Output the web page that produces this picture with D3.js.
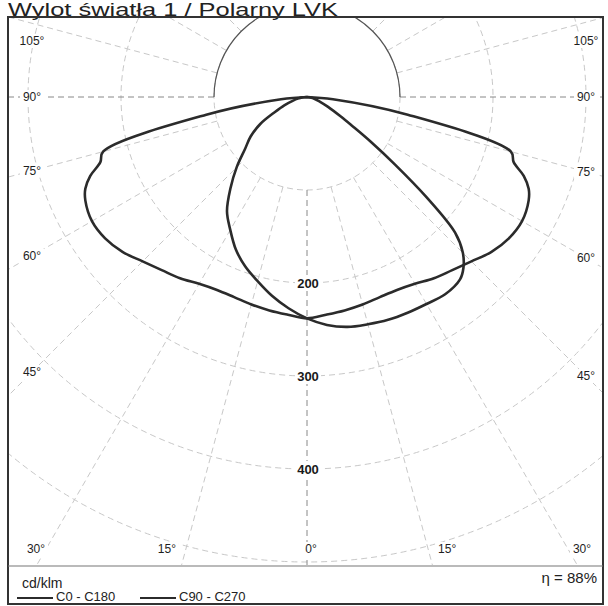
<!DOCTYPE html>
<html>
<head>
<meta charset="utf-8">
<script src="https://cdn.jsdelivr.net/npm/d3@7/dist/d3.min.js"></script>
<style>
  body { margin: 0; background: #fff; }
  text { font-family: "Liberation Sans", Arial, sans-serif; }
</style>
</head>
<body>
<div id="chart"></div>
<script>
const anglesC0 = [0, 5, 10, 15, 20, 25, 30, 35, 40, 45, 50, 55, 60, 65, 67.5, 70, 72.5, 75, 80, 85, 90];
const valuesC0 = [238, 235, 233, 231, 229, 229, 232, 238, 243, 250, 259, 265, 267, 263, 258, 248, 233, 227, 110, 28, 0];
const anglesC180 = [0, 5, 10, 15, 20, 25, 30, 35, 40, 45, 50, 55, 60, 65, 67.5, 70, 72.5, 75, 80, 85, 90];
const valuesC180 = [238, 235, 233, 231, 229, 229, 232, 238, 243, 250, 259, 265, 267, 263, 258, 248, 233, 227, 110, 28, 0];

const anglesC90 = [0, 5, 10, 15, 20, 25, 30, 35, 40, 42.5, 45, 47.5, 50, 52.5, 55, 57.5, 60, 65, 70, 80, 90];
const valuesC90 = [238, 246, 251, 253, 255, 256, 257, 259, 256, 249, 237, 216, 168, 119, 83, 57, 42, 25, 15, 6, 0];
const anglesC270 = [0, 5, 10, 15, 20, 25, 30, 35, 40, 45, 50, 55, 60, 65, 70, 75, 80, 85, 90];
const valuesC270 = [238, 228, 217, 205, 194, 181, 165, 150, 128, 107, 87, 74, 58, 38, 26, 16, 10, 5, 0];

const angleTicks = [0, 15, 30, 45, 60, 75, 90, 105];
const circleTicks = [100, 200, 300, 400, 500];
const valueLabels = [200, 300, 400];
const legendItems = ["C0 - C180", "C90 - C270"];

const width = 608, height = 606;
const cx = 307, cy = 97;
const frame = { left: 8, top: 17, right: 603, plotBottom: 566, bottom: 604 };

const svg = d3.select("#chart").append("svg")
  .attr("width", width)
  .attr("height", height);

// title, stretched a bit so it spans as wide as in the scan
svg.append("text")
  .attr("x", 8)
  .attr("y", 16)
  .attr("fill", "#222")
  .attr("textLength", 330)
  .attr("lengthAdjust", "spacingAndGlyphs")
  .style("font-size", "17.5px")
  .text("Wylot światła 1 / Polarny LVK");

const r = d3.scaleLinear().domain([0, 500]).range([0, 465]);
const rad = d => d * Math.PI / 180;

svg.append("clipPath").attr("id", "plotclip")
  .append("rect")
  .attr("x", frame.left + 1).attr("y", frame.top + 1)
  .attr("width", frame.right - frame.left - 2)
  .attr("height", frame.plotBottom - frame.top - 2);

const plot = svg.append("g").attr("clip-path", "url(#plotclip)");
const grid = plot.append("g").attr("transform", `translate(${cx},${cy})`);

// grid circles
grid.selectAll("circle")
  .data(circleTicks)
  .join("circle")
  .attr("r", d => r(d))
  .attr("fill", "none")
  .attr("stroke", "#c8c8c8")
  .attr("stroke-dasharray", "6,4")
  .attr("stroke-width", 1);

// radial lines every 15 degrees, starting at the 100 circle
grid.selectAll("line.ray")
  .data(d3.range(0, 360, 15))
  .join("line")
  .attr("class", "ray")
  .attr("x1", d => r(100) * Math.sin(rad(d)))
  .attr("y1", d => r(100) * Math.cos(rad(d)))
  .attr("x2", d => r(1000) * Math.sin(rad(d)))
  .attr("y2", d => r(1000) * Math.cos(rad(d)))
  .attr("stroke", d => (d === 0 || d === 90 || d === 270) ? "#888" : "#c8c8c8")
  .attr("stroke-dasharray", "6,4")
  .attr("stroke-width", 1);

// upper half of the 100 circle is printed darker
grid.append("path")
  .attr("d", d3.arc()({ innerRadius: r(100), outerRadius: r(100), startAngle: rad(-90), endAngle: rad(90) }))
  .attr("fill", "none")
  .attr("stroke", "#555")
  .attr("stroke-width", 1.2);

// value labels on the 0 degree axis
const vl = grid.selectAll("g.vlabel")
  .data(valueLabels)
  .join("g")
  .attr("class", "vlabel")
  .attr("transform", d => `translate(1,${r(d)})`);
vl.append("rect")
  .attr("x", -13).attr("y", -8).attr("width", 26).attr("height", 16)
  .attr("fill", "#fff");
vl.append("text")
  .attr("text-anchor", "middle")
  .attr("dy", "0.36em")
  .attr("fill", "#1a1a1a")
  .style("font-size", "13px")
  .style("font-weight", "bold")
  .text(d => d);

// curves
const line = d3.lineRadial()
  .angle(d => d[0])
  .radius(d => r(d[1]))
  .curve(d3.curveCatmullRom.alpha(0.5));

function halfCurve(angles, values) {
  return angles.map((a, i) => [a, values[i]]);
}

// left side (C180 / C270) from 90 down to nadir, right side (C0 / C90) back up to 90
function fullCurve(leftA, leftV, rightA, rightV) {
  const left = halfCurve(leftA, leftV).reverse().map(d => [Math.PI + rad(d[0]), d[1]]);
  const right = halfCurve(rightA, rightV).slice(1).map(d => [Math.PI - rad(d[0]), d[1]]);
  return left.concat(right);
}

const curves = [
  fullCurve(anglesC180, valuesC180, anglesC0, valuesC0),
  fullCurve(anglesC270, valuesC270, anglesC90, valuesC90)
];

grid.selectAll("path.curve")
  .data(curves)
  .join("path")
  .attr("class", "curve")
  .attr("d", line)
  .attr("fill", "none")
  .attr("stroke", "#2b2b2b")
  .attr("stroke-width", 2.6)
  .attr("stroke-linejoin", "round");

// angle labels round the frame
const labX0 = 32, labX1 = 586, labY0 = 41, labY1 = 549;
const angleLabels = [];
angleTicks.forEach(a => {
  (a === 0 ? [1] : [-1, 1]).forEach(s => angleLabels.push({ a: a, s: s }));
});

function labelPos(d) {
  const t = rad(d.a);
  if (d.a >= 30) {
    let x = d.s < 0 ? labX0 : labX1;
    let y = cy + Math.abs(x - cx) / Math.tan(t);
    y = Math.max(labY0, Math.min(labY1, y));
    if (d.a === 30) x += d.s * -4;
    return [x, y];
  }
  let x = cx + d.s * (labY1 - cy) * Math.tan(t);
  if (d.a > 0) x += d.s * 19;
  return [x + (d.a === 0 ? 4 : 0), labY1];
}

svg.selectAll("g.alabel")
  .data(angleLabels)
  .join("g")
  .attr("class", "alabel")
  .attr("transform", d => `translate(${labelPos(d)})`)
  .call(g => g.append("rect")
    .attr("x", -12).attr("y", -7).attr("width", 24).attr("height", 14)
    .attr("fill", "#fff"))
  .call(g => g.append("text")
    .attr("text-anchor", "middle")
    .attr("dy", "0.36em")
    .attr("fill", "#1e1e1e")
    .style("font-size", "12px")
    .text(d => d.a + "°"));

// frame and legend box
svg.append("rect")
  .attr("x", frame.left).attr("y", frame.top)
  .attr("width", frame.right - frame.left)
  .attr("height", frame.bottom - frame.top)
  .attr("fill", "none")
  .attr("stroke", "#333")
  .attr("stroke-width", 2);

svg.append("line")
  .attr("x1", frame.left).attr("x2", frame.right)
  .attr("y1", frame.plotBottom).attr("y2", frame.plotBottom)
  .attr("stroke", "#777")
  .attr("stroke-width", 1.2);

svg.append("text")
  .attr("x", 22).attr("y", 588)
  .attr("fill", "#222")
  .style("font-size", "14px")
  .text("cd/klm");

svg.append("text")
  .attr("x", 597).attr("y", 583)
  .attr("text-anchor", "end")
  .attr("fill", "#222")
  .style("font-size", "15px")
  .text("η = 88%");

const legendX = [17, 140];
const leg = svg.selectAll("g.legend")
  .data(legendItems)
  .join("g")
  .attr("class", "legend")
  .attr("transform", (d, i) => `translate(${legendX[i]},598)`);
leg.append("line")
  .attr("x1", 0).attr("x2", 36)
  .attr("stroke", "#2b2b2b")
  .attr("stroke-width", 1.8);
leg.append("text")
  .attr("x", 39)
  .attr("dy", "0.2em")
  .attr("fill", "#222")
  .style("font-size", "13px")
  .text(d => d);
</script>
</body>
</html>
